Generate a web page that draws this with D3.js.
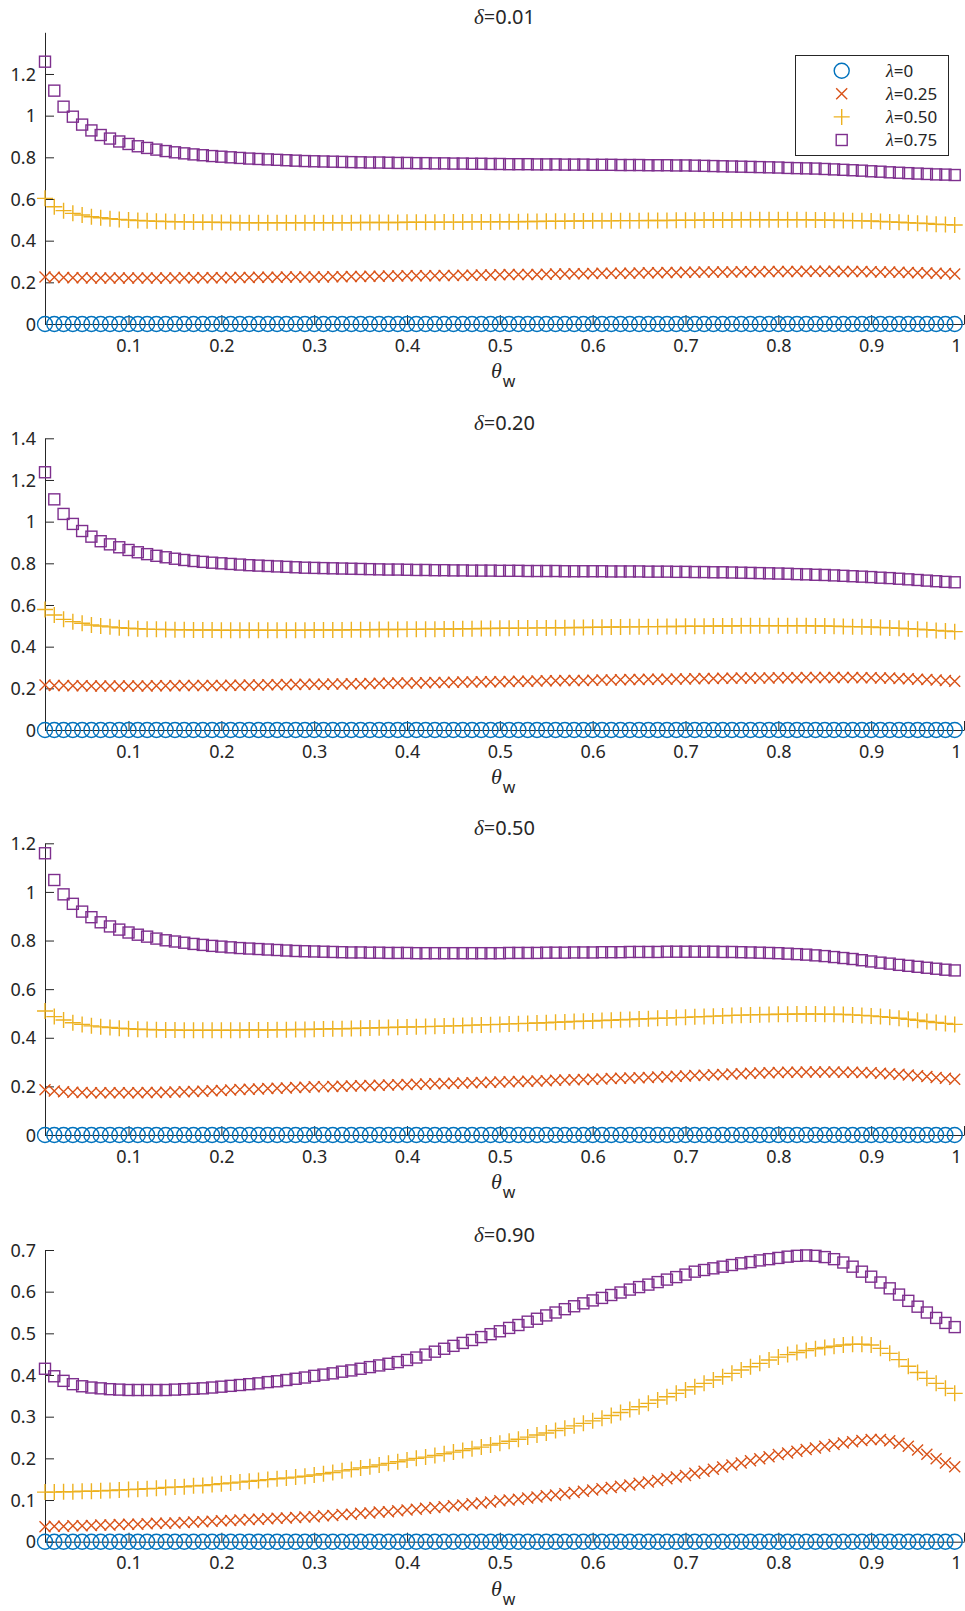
<!DOCTYPE html>
<html>
<head>
<meta charset="utf-8">
<script src="https://cdn.jsdelivr.net/npm/d3@7"></script>
<style>
body { margin: 0; background: #fff; }
svg text { font-family: "Noto Sans", sans-serif; fill: #262626; }
</style>
</head>
<body>
<div id="chart"></div>
<script>
// theta_w values (x)
let theta = [0.01,0.02,0.03,0.04,0.05,0.06,0.07,0.08,0.09,0.10,
  0.11,0.12,0.13,0.14,0.15,0.16,0.17,0.18,0.19,0.20,
  0.21,0.22,0.23,0.24,0.25,0.26,0.27,0.28,0.29,0.30,
  0.31,0.32,0.33,0.34,0.35,0.36,0.37,0.38,0.39,0.40,
  0.41,0.42,0.43,0.44,0.45,0.46,0.47,0.48,0.49,0.50,
  0.51,0.52,0.53,0.54,0.55,0.56,0.57,0.58,0.59,0.60,
  0.61,0.62,0.63,0.64,0.65,0.66,0.67,0.68,0.69,0.70,
  0.71,0.72,0.73,0.74,0.75,0.76,0.77,0.78,0.79,0.80,
  0.81,0.82,0.83,0.84,0.85,0.86,0.87,0.88,0.89,0.90,
  0.91,0.92,0.93,0.94,0.95,0.96,0.97,0.98,0.99]

let deltas = ["0.01", "0.20", "0.50", "0.90"]
let lambdas = ["0", "0.25", "0.50", "0.75"]

let xTickVals = [0.1,0.2,0.3,0.4,0.5,0.6,0.7,0.8,0.9,1]
let xTickLabels = ["0.1","0.2","0.3","0.4","0.5","0.6","0.7","0.8","0.9","1"]
let yTops = [1.4, 1.4, 1.2, 0.7]
let yTickSets = [
  [0,0.2,0.4,0.6,0.8,1,1.2],
  [0,0.2,0.4,0.6,0.8,1,1.2,1.4],
  [0,0.2,0.4,0.6,0.8,1,1.2],
  [0,0.1,0.2,0.3,0.4,0.5,0.6,0.7]
]

// lambda = 0 is zero everywhere
let zeroSeries = [0,0,0,0,0,0,0,0,0,0, 0,0,0,0,0,0,0,0,0,0, 0,0,0,0,0,0,0,0,0,0,
  0,0,0,0,0,0,0,0,0,0, 0,0,0,0,0,0,0,0,0,0, 0,0,0,0,0,0,0,0,0,0,
  0,0,0,0,0,0,0,0,0,0, 0,0,0,0,0,0,0,0,0,0, 0,0,0,0,0,0,0,0,0,0,
  0,0,0,0,0,0,0,0,0]

// delta = 0.01
let d01_l25 = [0.226,0.224,0.223,0.222,0.222,0.221,0.221,0.221,0.221,0.221,
  0.221,0.221,0.221,0.221,0.221,0.222,0.222,0.222,0.222,0.222,
  0.223,0.223,0.223,0.224,0.224,0.224,0.225,0.225,0.225,0.226,
  0.226,0.227,0.227,0.228,0.228,0.229,0.229,0.230,0.230,0.231,
  0.231,0.232,0.232,0.233,0.233,0.234,0.234,0.235,0.235,0.236,
  0.237,0.237,0.238,0.238,0.239,0.240,0.240,0.241,0.241,0.242,
  0.243,0.243,0.244,0.244,0.245,0.246,0.246,0.247,0.247,0.248,
  0.248,0.249,0.249,0.250,0.250,0.251,0.251,0.251,0.252,0.252,
  0.252,0.252,0.253,0.253,0.253,0.253,0.252,0.252,0.252,0.251,
  0.250,0.249,0.248,0.247,0.246,0.245,0.243,0.242,0.240]
let d01_l50 = [0.603,0.563,0.544,0.531,0.523,0.515,0.510,0.505,0.502,0.499,
  0.497,0.495,0.493,0.492,0.491,0.490,0.489,0.488,0.488,0.487,
  0.487,0.486,0.486,0.486,0.486,0.486,0.486,0.486,0.486,0.486,
  0.486,0.486,0.486,0.486,0.487,0.487,0.487,0.487,0.487,0.488,
  0.488,0.488,0.488,0.489,0.489,0.489,0.490,0.490,0.490,0.491,
  0.491,0.491,0.492,0.492,0.493,0.493,0.493,0.494,0.494,0.495,
  0.495,0.495,0.496,0.496,0.496,0.497,0.497,0.497,0.498,0.498,
  0.498,0.499,0.499,0.499,0.499,0.500,0.500,0.500,0.500,0.500,
  0.500,0.500,0.500,0.499,0.499,0.498,0.497,0.496,0.495,0.494,
  0.492,0.490,0.488,0.486,0.484,0.482,0.479,0.477,0.475]
let d01_l75 = [1.259,1.120,1.043,0.995,0.957,0.929,0.907,0.890,0.876,0.864,
  0.853,0.845,0.837,0.830,0.824,0.819,0.814,0.810,0.806,0.803,
  0.800,0.797,0.794,0.792,0.790,0.788,0.786,0.784,0.782,0.781,
  0.780,0.779,0.778,0.777,0.776,0.775,0.775,0.774,0.773,0.773,
  0.772,0.772,0.771,0.771,0.770,0.770,0.769,0.769,0.768,0.768,
  0.767,0.767,0.767,0.766,0.766,0.766,0.765,0.765,0.765,0.764,
  0.764,0.764,0.763,0.763,0.763,0.762,0.762,0.762,0.761,0.761,
  0.760,0.759,0.758,0.757,0.756,0.755,0.754,0.753,0.752,0.751,
  0.749,0.748,0.747,0.746,0.744,0.742,0.740,0.738,0.736,0.733,
  0.731,0.728,0.726,0.724,0.722,0.720,0.718,0.717,0.715]

// delta = 0.20
let d20_l25 = [0.216,0.214,0.213,0.212,0.212,0.211,0.211,0.211,0.211,0.211,
  0.211,0.211,0.212,0.212,0.212,0.213,0.213,0.213,0.214,0.214,
  0.215,0.215,0.216,0.216,0.217,0.217,0.218,0.218,0.219,0.219,
  0.220,0.221,0.221,0.222,0.222,0.223,0.224,0.224,0.225,0.226,
  0.226,0.227,0.228,0.228,0.229,0.230,0.230,0.231,0.232,0.232,
  0.233,0.234,0.234,0.235,0.236,0.236,0.237,0.238,0.238,0.239,
  0.240,0.240,0.241,0.242,0.242,0.243,0.244,0.244,0.245,0.245,
  0.246,0.247,0.247,0.248,0.248,0.249,0.249,0.250,0.250,0.251,
  0.251,0.251,0.252,0.252,0.252,0.252,0.252,0.252,0.251,0.251,
  0.250,0.249,0.247,0.246,0.244,0.242,0.240,0.237,0.234]
let d20_l50 = [0.578,0.552,0.531,0.520,0.512,0.504,0.499,0.495,0.491,0.488,
  0.486,0.484,0.483,0.482,0.481,0.481,0.480,0.480,0.480,0.479,
  0.479,0.479,0.479,0.479,0.479,0.479,0.479,0.479,0.479,0.480,
  0.480,0.480,0.480,0.481,0.481,0.481,0.482,0.482,0.482,0.483,
  0.483,0.484,0.484,0.485,0.485,0.486,0.486,0.487,0.487,0.488,
  0.488,0.489,0.489,0.490,0.490,0.491,0.491,0.492,0.492,0.493,
  0.493,0.494,0.494,0.495,0.495,0.496,0.496,0.497,0.497,0.498,
  0.498,0.498,0.499,0.499,0.499,0.500,0.500,0.500,0.500,0.500,
  0.500,0.500,0.500,0.499,0.499,0.498,0.497,0.496,0.495,0.494,
  0.492,0.490,0.488,0.486,0.484,0.481,0.478,0.475,0.472]
let d20_l75 = [1.237,1.107,1.037,0.989,0.955,0.928,0.906,0.891,0.877,0.864,
  0.853,0.844,0.836,0.829,0.822,0.816,0.811,0.807,0.803,0.800,
  0.797,0.794,0.791,0.789,0.787,0.785,0.783,0.781,0.779,0.778,
  0.777,0.776,0.775,0.774,0.773,0.772,0.771,0.770,0.770,0.769,
  0.768,0.768,0.767,0.767,0.766,0.766,0.765,0.765,0.765,0.764,
  0.764,0.764,0.763,0.763,0.763,0.763,0.762,0.762,0.762,0.762,
  0.762,0.761,0.761,0.761,0.761,0.760,0.760,0.760,0.759,0.759,
  0.758,0.758,0.757,0.757,0.756,0.755,0.754,0.753,0.752,0.751,
  0.750,0.748,0.747,0.745,0.744,0.742,0.740,0.738,0.736,0.734,
  0.731,0.729,0.726,0.723,0.720,0.717,0.714,0.711,0.709]

// delta = 0.50
let d50_l25 = [0.186,0.181,0.178,0.176,0.175,0.174,0.174,0.174,0.174,0.174,
  0.174,0.175,0.175,0.176,0.177,0.178,0.179,0.180,0.182,0.183,
  0.185,0.187,0.188,0.189,0.191,0.192,0.193,0.195,0.196,0.198,
  0.199,0.200,0.201,0.202,0.203,0.204,0.205,0.206,0.207,0.208,
  0.209,0.210,0.211,0.212,0.213,0.214,0.215,0.216,0.217,0.218,
  0.219,0.220,0.221,0.222,0.223,0.225,0.226,0.227,0.228,0.229,
  0.230,0.232,0.233,0.234,0.236,0.237,0.239,0.240,0.242,0.243,
  0.245,0.246,0.248,0.249,0.251,0.252,0.254,0.255,0.256,0.257,
  0.258,0.258,0.259,0.259,0.259,0.259,0.258,0.258,0.257,0.256,
  0.254,0.252,0.250,0.247,0.244,0.241,0.237,0.233,0.229]
let d50_l50 = [0.510,0.487,0.473,0.462,0.455,0.449,0.445,0.442,0.439,0.437,
  0.435,0.434,0.433,0.432,0.432,0.431,0.431,0.431,0.431,0.431,
  0.431,0.431,0.432,0.432,0.432,0.433,0.433,0.434,0.434,0.435,
  0.436,0.437,0.437,0.438,0.439,0.440,0.441,0.442,0.443,0.444,
  0.445,0.446,0.447,0.448,0.449,0.450,0.452,0.453,0.454,0.455,
  0.457,0.458,0.459,0.461,0.462,0.464,0.465,0.467,0.468,0.469,
  0.471,0.472,0.474,0.475,0.477,0.478,0.480,0.481,0.483,0.484,
  0.486,0.487,0.489,0.490,0.492,0.493,0.494,0.495,0.496,0.497,
  0.497,0.498,0.498,0.498,0.497,0.497,0.496,0.494,0.492,0.490,
  0.487,0.484,0.480,0.476,0.472,0.467,0.463,0.459,0.455]
let d50_l75 = [1.159,1.049,0.990,0.951,0.919,0.896,0.875,0.858,0.845,0.833,
  0.824,0.816,0.808,0.801,0.796,0.791,0.786,0.782,0.778,0.775,
  0.772,0.769,0.767,0.765,0.763,0.761,0.759,0.757,0.756,0.755,
  0.754,0.753,0.752,0.751,0.751,0.750,0.750,0.749,0.749,0.749,
  0.748,0.748,0.748,0.748,0.748,0.748,0.748,0.748,0.748,0.748,
  0.749,0.749,0.749,0.749,0.750,0.750,0.750,0.751,0.751,0.751,
  0.752,0.752,0.752,0.753,0.753,0.753,0.753,0.754,0.754,0.754,
  0.754,0.754,0.754,0.753,0.753,0.752,0.751,0.750,0.749,0.748,
  0.746,0.744,0.742,0.739,0.736,0.732,0.728,0.724,0.719,0.714,
  0.709,0.705,0.700,0.696,0.692,0.688,0.684,0.680,0.677]

// delta = 0.90
let d90_l25 = [0.036,0.037,0.037,0.038,0.038,0.039,0.040,0.040,0.041,0.042,
  0.042,0.043,0.044,0.044,0.045,0.046,0.047,0.048,0.049,0.050,
  0.051,0.052,0.053,0.054,0.055,0.056,0.057,0.058,0.059,0.060,
  0.062,0.063,0.065,0.066,0.068,0.069,0.071,0.072,0.074,0.076,
  0.078,0.080,0.082,0.084,0.086,0.088,0.091,0.093,0.095,0.098,
  0.100,0.102,0.105,0.107,0.110,0.112,0.115,0.118,0.121,0.124,
  0.127,0.130,0.133,0.136,0.140,0.143,0.147,0.151,0.155,0.159,
  0.164,0.169,0.174,0.179,0.184,0.189,0.194,0.199,0.204,0.209,
  0.213,0.217,0.221,0.225,0.229,0.233,0.237,0.240,0.243,0.245,
  0.245,0.242,0.236,0.229,0.220,0.210,0.199,0.189,0.180]
let d90_l50 = [0.119,0.119,0.120,0.120,0.121,0.121,0.122,0.123,0.124,0.125,
  0.126,0.127,0.128,0.130,0.131,0.132,0.134,0.135,0.137,0.139,
  0.141,0.143,0.145,0.147,0.149,0.151,0.153,0.155,0.157,0.160,
  0.163,0.166,0.170,0.173,0.177,0.180,0.184,0.188,0.192,0.196,
  0.200,0.203,0.207,0.211,0.215,0.219,0.223,0.227,0.232,0.236,
  0.241,0.246,0.251,0.256,0.261,0.267,0.272,0.278,0.284,0.290,
  0.296,0.303,0.310,0.317,0.324,0.332,0.340,0.348,0.356,0.364,
  0.372,0.380,0.388,0.396,0.404,0.412,0.420,0.428,0.436,0.443,
  0.449,0.454,0.459,0.463,0.466,0.469,0.472,0.474,0.474,0.472,
  0.464,0.452,0.437,0.421,0.406,0.392,0.380,0.368,0.356]
let d90_l75 = [0.415,0.397,0.386,0.378,0.373,0.370,0.368,0.366,0.365,0.364,
  0.364,0.364,0.364,0.364,0.365,0.366,0.367,0.368,0.370,0.372,
  0.374,0.376,0.378,0.380,0.383,0.385,0.388,0.391,0.394,0.398,
  0.401,0.404,0.408,0.411,0.415,0.419,0.423,0.427,0.431,0.436,
  0.442,0.449,0.456,0.463,0.470,0.477,0.484,0.491,0.498,0.505,
  0.513,0.520,0.528,0.535,0.543,0.550,0.558,0.565,0.572,0.579,
  0.585,0.592,0.598,0.605,0.611,0.617,0.623,0.629,0.635,0.641,
  0.648,0.652,0.656,0.660,0.664,0.668,0.671,0.675,0.678,0.681,
  0.684,0.686,0.687,0.686,0.683,0.678,0.670,0.660,0.648,0.636,
  0.622,0.608,0.593,0.578,0.564,0.550,0.537,0.525,0.515]

let seriesByPanel = [
  [zeroSeries, d01_l25, d01_l50, d01_l75],
  [zeroSeries, d20_l25, d20_l50, d20_l75],
  [zeroSeries, d50_l25, d50_l50, d50_l75],
  [zeroSeries, d90_l25, d90_l50, d90_l75]
]

let width = 965
let height = 1611
let colors = ["#0072BD", "#D95319", "#EDB120", "#7E2F8E"]
let panelTops = [32.3, 438.3, 843.3, 1250]
let panelH = 291.7
let axisLeft = 45
let axisRight = 964

let svg = d3.select("#chart")
  .append("svg")
  .attr("width", width)
  .attr("height", height)

svg.append("rect").attr("width", width).attr("height", height).attr("fill", "#fff")

// marker shapes: o, x, +, square
function addMarker(sel, k) {
  if (k === 0) {
    sel.append("circle").attr("r", 7.5)
  } else if (k === 1) {
    sel.append("path").attr("d", "M-5.5,-5.5L5.5,5.5M-5.5,5.5L5.5,-5.5")
  } else if (k === 2) {
    sel.append("path").attr("d", "M-8,0H8M0,-8V8")
  } else {
    sel.append("rect").attr("x", -5.5).attr("y", -5.5).attr("width", 11).attr("height", 11)
  }
}

seriesByPanel.forEach(function(series, i) {
  let top = panelTops[i]
  let bottom = top + panelH

  let xScale = d3.scaleLinear().domain([0.01, 1]).range([axisLeft, axisRight])
  let yScale = d3.scaleLinear().domain([0, yTops[i]]).range([bottom, top])

  let xAxis = d3.axisBottom(xScale)
    .tickValues(xTickVals)
    .tickFormat(function(d, j) { return xTickLabels[j] })
    .tickSizeInner(-9).tickSizeOuter(0).tickPadding(15)
  let yAxis = d3.axisLeft(yScale)
    .tickValues(yTickSets[i])
    .tickFormat(d3.format("~g"))
    .tickSizeInner(-9).tickSizeOuter(0).tickPadding(9)

  let gx = svg.append("g").attr("transform", `translate(0, ${bottom})`).call(xAxis)
  let gy = svg.append("g").attr("transform", `translate(${axisLeft}, 0)`).call(yAxis)

  ;[gx, gy].forEach(function(g) {
    g.attr("font-family", null).attr("font-size", null)
    g.selectAll("path, line").attr("stroke", "#262626").attr("stroke-width", 1)
    g.selectAll("text").attr("fill", "#262626").style("font-size", "18px")
  })
  gy.selectAll("text").attr("dy", "0.34em")
  // keep the "1" inside the page
  gx.selectAll("text").filter(function(d) { return d === 1 }).attr("text-anchor", "end").attr("x", -3)

  // title
  let title = svg.append("text")
    .attr("x", (axisLeft + axisRight) / 2)
    .attr("y", top - 8)
    .attr("text-anchor", "middle")
    .style("font-size", "20px")
  title.append("tspan").text("δ")
    .style("font-family", "'Liberation Serif', serif").style("font-style", "italic").style("font-size", "21px")
  title.append("tspan").text("=" + deltas[i])

  // x label
  let xl = svg.append("text")
    .attr("x", 491)
    .attr("y", bottom + 54)
  xl.append("tspan").text("θ")
    .style("font-family", "'Liberation Serif', serif").style("font-style", "italic").style("font-size", "22px")
  xl.append("tspan").text("w").attr("dy", 9).attr("dx", 1).style("font-size", "16px")

  // markers
  series.forEach(function(vals, k) {
    let g = svg.append("g")
      .attr("fill", "none")
      .attr("stroke", colors[k])
      .attr("stroke-width", 1.4)
    let pts = g.selectAll("g.pt").data(vals).enter()
      .append("g")
      .attr("class", "pt")
      .attr("transform", function(d, j) { return `translate(${xScale(theta[j])}, ${yScale(d)})` })
    pts.each(function() { addMarker(d3.select(this), k) })
  })

  // legend only on the first panel
  if (i === 0) {
    let lg = svg.append("g")
    lg.append("rect")
      .attr("x", 795.5).attr("y", 55.5).attr("width", 153).attr("height", 100)
      .attr("fill", "#fff").attr("stroke", "#262626").attr("stroke-width", 1)
    lambdas.forEach(function(lam, k) {
      let yy = 70.7 + k * 23.1
      let m = lg.append("g")
        .attr("transform", `translate(841.7, ${yy})`)
        .attr("fill", "none").attr("stroke", colors[k]).attr("stroke-width", 1.4)
      addMarker(m, k)
      let t = lg.append("text").attr("x", 886).attr("y", yy).attr("dy", "0.36em").style("font-size", "17px")
      t.append("tspan").text("λ")
        .style("font-family", "'Liberation Serif', serif").style("font-style", "italic").style("font-size", "18px")
      t.append("tspan").text("=" + lam)
    })
  }
})
</script>
</body>
</html>
